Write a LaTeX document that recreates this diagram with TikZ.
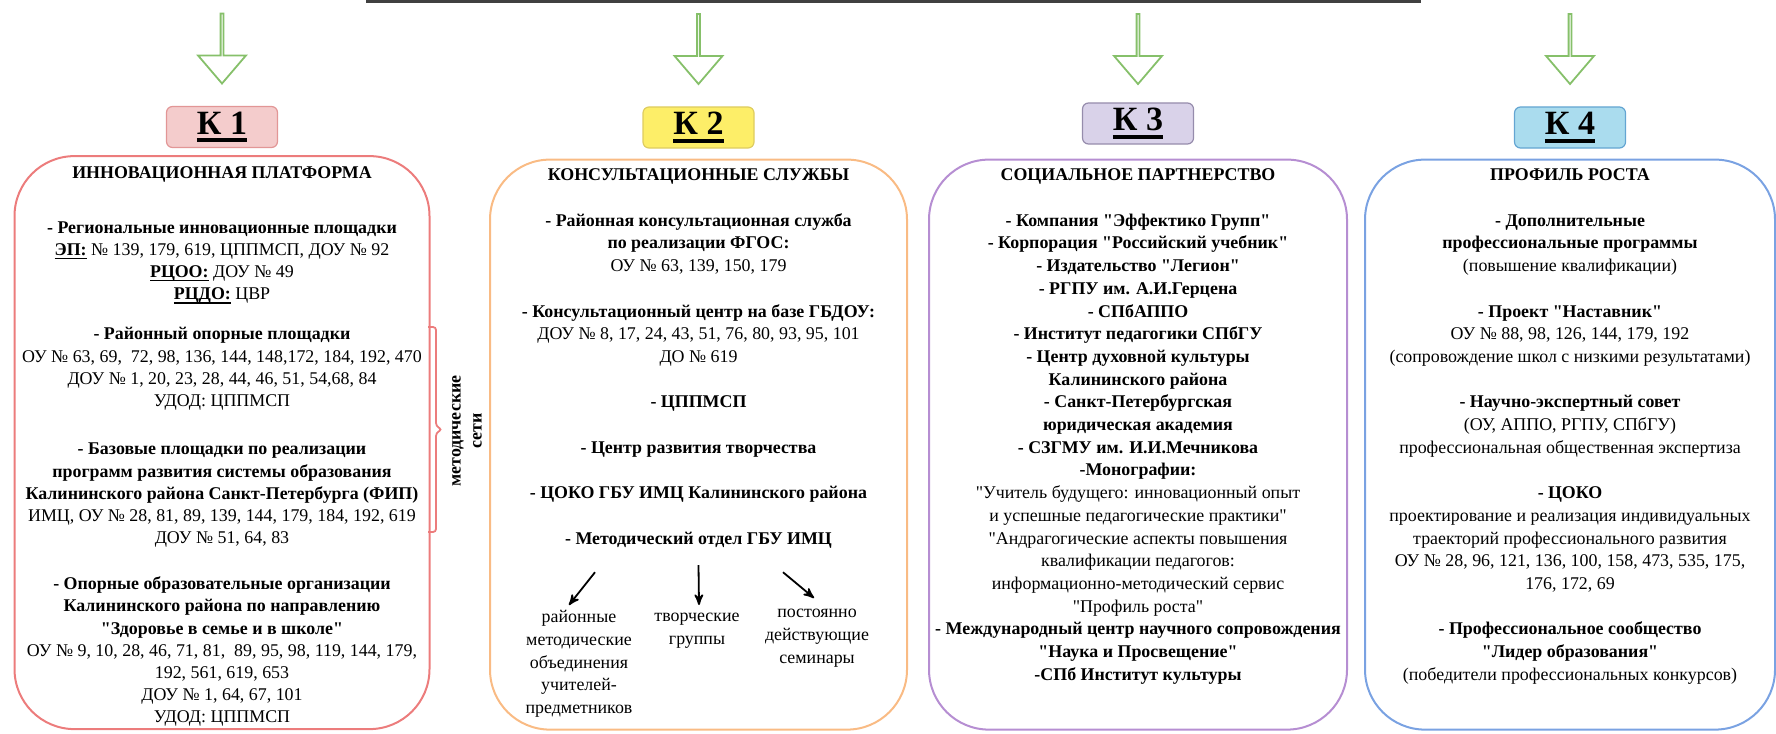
\documentclass[tikz,border=0pt]{standalone}
\usepackage{fontspec}
\setmainfont{Liberation Serif}[Ligatures=TeXOff]
\definecolor{k1fill}{RGB}{244,204,204}
\definecolor{k1draw}{RGB}{226,150,150}
\definecolor{k2fill}{RGB}{253,238,104}
\definecolor{k2draw}{RGB}{222,204,96}
\definecolor{k3fill}{RGB}{217,210,233}
\definecolor{k3draw}{RGB}{150,140,172}
\definecolor{k4fill}{RGB}{170,220,238}
\definecolor{k4draw}{RGB}{100,165,210}
\definecolor{col1}{RGB}{236,124,124}
\definecolor{col2}{RGB}{249,187,132}
\definecolor{col3}{RGB}{182,142,210}
\definecolor{col4}{RGB}{122,162,226}
\definecolor{arrowgreen}{RGB}{134,192,106}
\usetikzlibrary{positioning, arrows, shapes.arrows}
\tikzset{
>=stealth', % arrow heads of the small arrows
every node/.style={inner sep=0pt},
klabel/.style={draw, rounded corners=3pt, line width=0.6pt, minimum width=55.5pt, minimum height=20.5pt, font=\fontsize{17}{19}\selectfont\bfseries}, % the K boxes
column/.style={draw, line width=1pt, rounded corners=30pt, minimum width=208pt, minimum height=285pt}, % the four big frames
coltext/.style={align=center, font=\fontsize{8.95}{11.35}\selectfont},
hollow/.style={single arrow, shape border rotate=270, draw=arrowgreen, fill=white, line width=0.9pt, minimum height=35pt, minimum width=24pt, single arrow head extend=7.25pt, single arrow tip angle=81},
pil/.style={->, line width=0.9pt},
}
\newsavebox\kbox
\newcommand{\kname}[1]{\sbox\kbox{#1}\rlap{\rule[-4pt]{\wd\kbox}{2pt}}\usebox\kbox}
\newcommand{\undl}[1]{\sbox\kbox{#1}\rlap{\rule[-1.8pt]{\wd\kbox}{0.7pt}}\usebox\kbox}

\begin{document}
\begin{tikzpicture}[x=0.5pt, y=-0.5pt]
\useasboundingbox (0,0) rectangle (1776,733);
\draw[line width=1.5pt, black!75] (366,2) -- (1421,2);

\node[klabel, fill=k1fill, draw=k1draw] (k1) at (222,127) {\kname{К 1}};
\node[klabel, fill=k2fill, draw=k2draw] (k2) at (698.5,127.5) {\kname{К 2}};
\node[klabel, fill=k3fill, draw=k3draw] (k3) at (1138,123.5) {\kname{К 3}};
\node[klabel, fill=k4fill, draw=k4draw] (k4) at (1570,127.5) {\kname{К 4}};

\node[hollow, above=10.5pt of k1, anchor=tip] (a1) {};
\node[hollow, above=10.5pt of k2, anchor=tip] (a2) {};
\node[hollow, above=8.5pt of k3, anchor=tip] (a3) {};
\node[hollow, above=10.5pt of k4, anchor=tip] (a4) {};

\node[column, draw=col1, below=3.5pt of k1, minimum width=207.5pt, minimum height=286.5pt] (c1) {};
\node[column, draw=col2, below=5pt of k2, minimum width=208.5pt] (c2) {};
\node[column, draw=col3, below=7pt of k3, minimum width=209pt] (c3) {};
\node[column, draw=col4, below=5pt of k4, minimum width=205pt] (c4) {};

\node[coltext, font=\fontsize{8.95}{11.1}\selectfont, below=5.5pt of c1.north] (txt1) {\textbf{ИННОВАЦИОННАЯ ПЛАТФОРМА}\\[16.4pt]
\textbf{- Региональные инновационные площадки}\\
\undl{\textbf{ЭП:}} № 139, 179, 619, ЦППМСП, ДОУ № 92\\
\undl{\textbf{РЦОО:}} ДОУ № 49\\
\undl{\textbf{РЦДО:}} ЦВР\\[8.9pt]
\textbf{- Районный опорные площадки}\\
ОУ № 63, 69,\ \ 72, 98, 136, 144, 148,172, 184, 192, 470\\
ДОУ № 1, 20, 23, 28, 44, 46, 51, 54,68, 84\\
УДОД: ЦППМСП\\[13.1pt]
\textbf{- Базовые площадки по реализации}\\
\textbf{программ развития системы образования}\\
\textbf{Калининского района Санкт-Петербурга (ФИП)}\\
ИМЦ, ОУ № 28, 81, 89, 139, 144, 179, 184, 192, 619\\
ДОУ № 51, 64, 83\\[11.9pt]
\textbf{- Опорные образовательные организации}\\
\textbf{Калининского района по направлению}\\
\textbf{"Здоровье в семье и в школе"}\\
ОУ № 9, 10, 28, 46, 71, 81,\ \ 89, 95, 98, 119, 144, 179,\\
192, 561, 619, 653\\
ДОУ № 1, 64, 67, 101\\
УДОД: ЦППМСП};

\draw[line width=0.9pt, col1, rounded corners=1.5pt] (428,327) -- (436,327) -- (436,426) -- (442,429.5) -- (436,433) -- (436,532) -- (428,532);
\node[coltext, font=\fontsize{8.95}{10.5}\selectfont\bfseries, rotate=90] (seti) at (467,431) {методические\\сети};

\node[coltext, below=5pt of c2.north] (txt2) {\textbf{КОНСУЛЬТАЦИОННЫЕ СЛУЖБЫ}\\[11.35pt]
\textbf{- Районная консультационная служба}\\
\textbf{по реализации ФГОС:}\\
ОУ № 63, 139, 150, 179\\[11.35pt]
\textbf{- Консультационный центр на базе ГБДОУ:}\\
ДОУ № 8, 17, 24, 43, 51, 76, 80, 93, 95, 101\\
ДО № 619\\[11.35pt]
\textbf{- ЦППМСП}\\[11.35pt]
\textbf{- Центр развития творчества}\\[11.35pt]
\textbf{- ЦОКО ГБУ ИМЦ Калининского района}};
\node[coltext, anchor=base] (metod) at (698.5,544) {\textbf{- Методический отдел ГБУ ИМЦ}};
\node[coltext, anchor=north] (rmo) at (579,610) {районные\\методические\\объединения\\учителей-\\предметников};
\node[coltext, anchor=north] (tvg) at (697,613) {творческие\\группы};
\node[coltext, anchor=north] (pds) at (817,609) {постоянно\\действующие\\семинары};
\draw[pil] ([xshift=-51.75pt, yshift=-12pt]metod.south) -- ([xshift=-5pt, yshift=2.5pt]rmo.north);
\draw[pil] ([yshift=-8.5pt]metod.south) -- ([xshift=1pt, yshift=4pt]tvg.north);
\draw[pil] ([xshift=42.25pt, yshift=-12pt]metod.south) -- ([xshift=-1.5pt, yshift=5.5pt]pds.north);

\node[coltext, below=5pt of c3.north] (txt3) {\textbf{СОЦИАЛЬНОЕ ПАРТНЕРСТВО}\\[11.35pt]
\textbf{- Компания "Эффектико Групп"}\\
\textbf{- Корпорация "Российский учебник"}\\
\textbf{- Издательство "Легион"}\\
\textbf{- РГПУ им. А.И.Герцена}\\
\textbf{- СПбАППО}\\
\textbf{- Институт педагогики СПбГУ}\\
\textbf{- Центр духовной культуры}\\
\textbf{Калининского района}\\
\textbf{- Санкт-Петербургская}\\
\textbf{юридическая академия}\\
\textbf{- СЗГМУ им. И.И.Мечникова}\\
\textbf{-Монографии:}\\
"Учитель будущего: инновационный опыт\\
и успешные педагогические практики"\\
"Андрагогические аспекты повышения\\
квалификации педагогов:\\
информационно-методический сервис\\
"Профиль роста"\\
\textbf{- Международный центр научного сопровождения}\\
\textbf{"Наука и Просвещение"}\\
\textbf{-СПб Институт культуры}};

\node[coltext, below=5pt of c4.north] (txt4) {\textbf{ПРОФИЛЬ РОСТА}\\[11.35pt]
\textbf{- Дополнительные}\\
\textbf{профессиональные программы}\\
(повышение квалификации)\\[11.35pt]
\textbf{- Проект "Наставник"}\\
ОУ № 88, 98, 126, 144, 179, 192\\
(сопровождение школ с низкими результатами)\\[11.35pt]
\textbf{- Научно-экспертный совет}\\
(ОУ, АППО, РГПУ, СПбГУ)\\
профессиональная общественная экспертиза\\[11.35pt]
\textbf{- ЦОКО}\\
проектирование и реализация индивидуальных\\
траекторий профессионального развития\\
ОУ № 28, 96, 121, 136, 100, 158, 473, 535, 175,\\
176, 172, 69\\[11.35pt]
\textbf{- Профессиональное сообщество}\\
\textbf{"Лидер образования"}\\
(победители профессиональных конкурсов)};
\end{tikzpicture}
\end{document}
